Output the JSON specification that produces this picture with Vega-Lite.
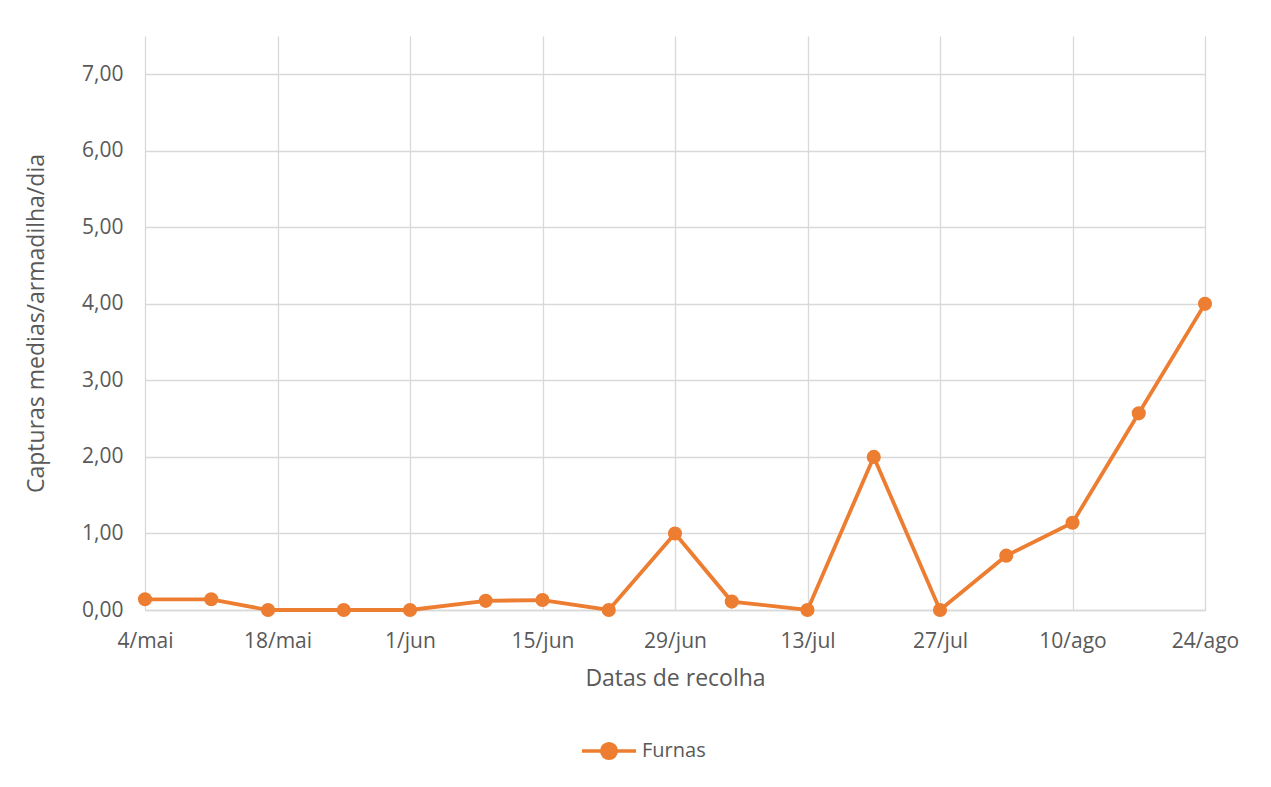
{
  "$schema": "https://vega.github.io/schema/vega-lite/v6.json",
  "width": 1060,
  "height": 574,
  "autosize": "none",
  "padding": {"left": 145, "top": 36, "right": 66, "bottom": 177},
  "background": "white",
  "config": {
    "font": "Open Sans",
    "view": {"stroke": null},
    "axis": {"labelColor": "#595959", "titleColor": "#595959", "labelFontSize": 21, "titleFontSize": 23, "titleFontWeight": "normal", "gridColor": "#D9D9D9", "gridWidth": 1.3, "ticks": false}
  },
  "data": {
    "values": [
      {"date": "2019-05-04", "capturas": 0.14, "local": "Furnas"},
      {"date": "2019-05-11", "capturas": 0.14, "local": "Furnas"},
      {"date": "2019-05-17", "capturas": 0.0, "local": "Furnas"},
      {"date": "2019-05-25", "capturas": 0.0, "local": "Furnas"},
      {"date": "2019-06-01", "capturas": 0.0, "local": "Furnas"},
      {"date": "2019-06-09", "capturas": 0.12, "local": "Furnas"},
      {"date": "2019-06-15", "capturas": 0.13, "local": "Furnas"},
      {"date": "2019-06-22", "capturas": 0.0, "local": "Furnas"},
      {"date": "2019-06-29", "capturas": 1.0, "local": "Furnas"},
      {"date": "2019-07-05", "capturas": 0.11, "local": "Furnas"},
      {"date": "2019-07-13", "capturas": 0.0, "local": "Furnas"},
      {"date": "2019-07-20", "capturas": 2.0, "local": "Furnas"},
      {"date": "2019-07-27", "capturas": 0.0, "local": "Furnas"},
      {"date": "2019-08-03", "capturas": 0.71, "local": "Furnas"},
      {"date": "2019-08-10", "capturas": 1.14, "local": "Furnas"},
      {"date": "2019-08-17", "capturas": 2.57, "local": "Furnas"},
      {"date": "2019-08-24", "capturas": 4.0, "local": "Furnas"}
    ]
  },
  "encoding": {
    "x": {
      "field": "date",
      "type": "temporal",
      "scale": {"type": "utc", "nice": false},
      "axis": {
        "title": "Datas de recolha",
        "values": [
          {"year": 2019, "month": 5, "date": 4, "utc": true},
          {"year": 2019, "month": 5, "date": 18, "utc": true},
          {"year": 2019, "month": 6, "date": 1, "utc": true},
          {"year": 2019, "month": 6, "date": 15, "utc": true},
          {"year": 2019, "month": 6, "date": 29, "utc": true},
          {"year": 2019, "month": 7, "date": 13, "utc": true},
          {"year": 2019, "month": 7, "date": 27, "utc": true},
          {"year": 2019, "month": 8, "date": 10, "utc": true},
          {"year": 2019, "month": 8, "date": 24, "utc": true}
        ],
        "labelExpr": "utcdate(datum.value) + '/' + ['jan','fev','mar','abr','mai','jun','jul','ago','set','out','nov','dez'][utcmonth(datum.value)]",
        "labelPadding": 20,
        "titlePadding": 16,
        "domain": true,
        "domainColor": "#D9D9D9",
        "domainWidth": 1.3,
        "labelFlush": false,
        "labelOverlap": false
      }
    },
    "y": {
      "field": "capturas",
      "type": "quantitative",
      "scale": {"domain": [0, 7.5], "nice": false},
      "axis": {
        "title": "Capturas medias/armadilha/dia",
        "values": [0, 1, 2, 3, 4, 5, 6, 7],
        "format": ".2f",
        "labelExpr": "replace(datum.label, '.', ',')",
        "labelPadding": 22,
        "titlePadding": 33,
        "domain": false
      }
    },
    "color": {
      "field": "local",
      "type": "nominal",
      "scale": {"range": ["#ED7D31"]},
      "legend": {
        "title": null,
        "orient": "none",
        "legendX": 435,
        "legendY": 686,
        "symbolType": "M-1,0L1,0M0.27,0A0.27,0.27,0,1,1,-0.27,0A0.27,0.27,0,1,1,0.27,0Z",
        "symbolSize": 2916,
        "symbolStrokeWidth": 3.5,
        "symbolFillColor": "#ED7D31",
        "symbolStrokeColor": "#ED7D31",
        "labelFontSize": 20,
        "labelColor": "#595959",
        "labelOffset": 4
      }
    }
  },
  "layer": [
    {"mark": {"type": "line", "strokeWidth": 3.8}},
    {"mark": {"type": "point", "filled": true, "size": 200, "opacity": 1}}
  ]
}
